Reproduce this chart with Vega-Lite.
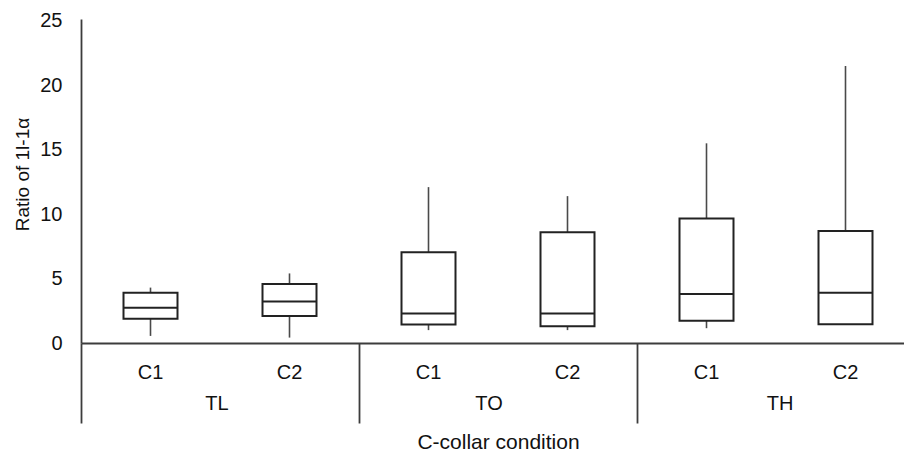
{
  "$schema": "https://vega.github.io/schema/vega-lite/v6.json",
  "width": 823,
  "height": 324,
  "autosize": {"type": "none"},
  "padding": {"left": 81, "top": 19, "right": 0, "bottom": 108},
  "background": "white",
  "config": {"view": {"stroke": null}, "font": "Liberation Sans"},
  "data": {
    "values": [
      {"group": "TL", "cond": "C1", "min": 0.55, "q1": 1.88, "median": 2.73, "q3": 3.9, "max": 4.3},
      {"group": "TL", "cond": "C2", "min": 0.42, "q1": 2.1, "median": 3.23, "q3": 4.58, "max": 5.4},
      {"group": "TO", "cond": "C1", "min": 1.0, "q1": 1.43, "median": 2.29, "q3": 7.05, "max": 12.1},
      {"group": "TO", "cond": "C2", "min": 1.0, "q1": 1.3, "median": 2.29, "q3": 8.59, "max": 11.4},
      {"group": "TH", "cond": "C1", "min": 1.15, "q1": 1.72, "median": 3.8, "q3": 9.66, "max": 15.5},
      {"group": "TH", "cond": "C2", "min": 1.46, "q1": 1.46, "median": 3.9, "q3": 8.7, "max": 21.5}
    ]
  },
  "transform": [{"calculate": "datum.group + ' ' + datum.cond", "as": "key"}],
  "layer": [
    {
      "mark": {"type": "rule", "color": "#4a4a4a", "strokeWidth": 1.6},
      "encoding": {
        "x": {
          "field": "key", "type": "nominal",
          "scale": {"domain": ["TL C1", "TL C2", "TO C1", "TO C2", "TH C1", "TH C2"], "range": [0, 834], "paddingInner": 0, "paddingOuter": 0},
          "axis": {"orient": "bottom", "values": ["TL C1", "TO C1", "TH C1"], "bandPosition": 0, "ticks": true, "tickSize": 80, "tickColor": "#3c3c3c", "tickWidth": 1.8, "labels": false, "domain": false, "grid": false, "title": null}
        },
        "y": {
          "field": "min", "type": "quantitative",
          "scale": {"domain": [0, 25.15], "nice": false, "zero": false},
          "axis": {"values": [0, 5, 10, 15, 20, 25], "grid": false, "ticks": false, "tickSize": 0, "labelPadding": 19, "labelFontSize": 20, "labelColor": "#111", "domainColor": "#3c3c3c", "domainWidth": 1.8, "title": "Ratio of 1l-1α", "titleFontSize": 19, "titleFontWeight": "normal", "titleColor": "#111", "titlePadding": 7, "titleY": 155}
        },
        "y2": {"field": "max"}
      }
    },
    {
      "mark": {"type": "bar", "fill": "white", "stroke": "#222", "strokeWidth": 2, "size": 54, "opacity": 1},
      "encoding": {
        "x": {
          "field": "key", "type": "nominal",
          "scale": {"domain": ["TL C1", "TL C2", "TO C1", "TO C2", "TH C1", "TH C2"], "range": [0, 834], "paddingInner": 0, "paddingOuter": 0},
          "axis": {"orient": "bottom", "bandPosition": 0.5, "ticks": false, "tickSize": 0, "labelExpr": "split(datum.label, ' ')[1]", "labelAngle": 0, "labelPadding": 19, "labelFontSize": 20, "labelColor": "#111", "domain": true, "domainColor": "#3c3c3c", "domainWidth": 1.8, "grid": false, "title": null}
        },
        "y": {
          "field": "q1", "type": "quantitative",
          "scale": {"domain": [0, 25.15], "nice": false, "zero": false},
          "axis": {"values": [0, 5, 10, 15, 20, 25], "grid": false, "ticks": false, "tickSize": 0, "labelPadding": 19, "labelFontSize": 20, "labelColor": "#111", "domainColor": "#3c3c3c", "domainWidth": 1.8, "title": "Ratio of 1l-1α", "titleFontSize": 19, "titleFontWeight": "normal", "titleColor": "#111", "titlePadding": 7, "titleY": 155}
        },
        "y2": {"field": "q3"}
      }
    },
    {
      "mark": {"type": "tick", "color": "#222", "thickness": 2, "size": 54, "opacity": 1},
      "encoding": {
        "x": {
          "field": "key", "type": "nominal",
          "scale": {"domain": ["TL C1", "TL C2", "TO C1", "TO C2", "TH C1", "TH C2"], "range": [0, 834], "paddingInner": 0, "paddingOuter": 0},
          "axis": {"orient": "bottom", "values": ["TL C2", "TO C2", "TH C2"], "ticks": false, "tickSize": 0, "labelExpr": "split(datum.label, ' ')[0]", "labelAngle": 0, "labelPadding": 50, "labelOffset": {"condition": [{"test": "datum.value == 'TO C2'", "value": -78.5}, {"test": "datum.value == 'TH C2'", "value": -65.5}], "value": -72.5}, "labelFontSize": 20, "labelColor": "#111", "domain": false, "grid": false, "title": "C-collar condition", "titleFontSize": 21, "titleFontWeight": "normal", "titleColor": "#111", "titleY": 88}
        },
        "y": {
          "field": "median", "type": "quantitative",
          "scale": {"domain": [0, 25.15], "nice": false, "zero": false},
          "axis": {"values": [0, 5, 10, 15, 20, 25], "grid": false, "ticks": false, "tickSize": 0, "labelPadding": 19, "labelFontSize": 20, "labelColor": "#111", "domainColor": "#3c3c3c", "domainWidth": 1.8, "title": "Ratio of 1l-1α", "titleFontSize": 19, "titleFontWeight": "normal", "titleColor": "#111", "titlePadding": 7, "titleY": 155}
        }
      }
    }
  ],
  "resolve": {"axis": {"x": "independent"}}
}
